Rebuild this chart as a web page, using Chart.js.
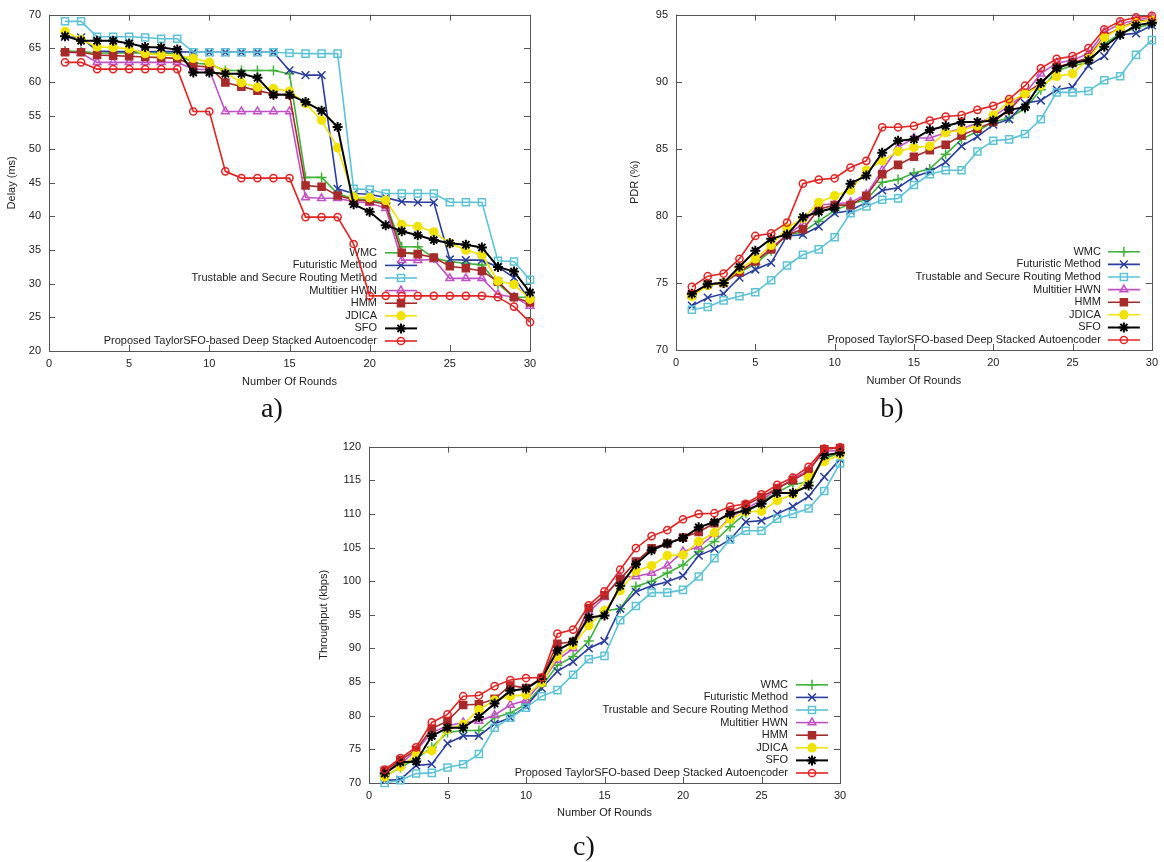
<!DOCTYPE html>
<html>
<head>
<meta charset="utf-8">
<script src="https://cdn.jsdelivr.net/npm/chart.js@4.4.0/dist/chart.umd.min.js"></script>
<style>
  body { margin: 0; background: #fff; width: 1164px; height: 862px; position: relative; overflow: hidden; }
  .panel { position: absolute; }
  .cap { position: absolute; font-family: "Liberation Serif", "DejaVu Serif", serif; font-size: 28px; color: #111; transform: translateX(-50%); line-height: 1; }
</style>
</head>
<body>
<div class="panel" style="left:0;top:0;width:560px;height:400px"><canvas id="delayChart"></canvas></div>
<div class="panel" style="left:620px;top:0;width:544px;height:400px"><canvas id="pdrChart"></canvas></div>
<div class="panel" style="left:300px;top:432px;width:560px;height:400px"><canvas id="thrChart"></canvas></div>
<div class="cap" style="left:272px;top:394px">a)</div>
<div class="cap" style="left:892px;top:394px">b)</div>
<div class="cap" style="left:584px;top:832px">c)</div>

<script>
/* ---- data ---- */
const rounds = [1, 2, 3, 4, 5, 6, 7, 8, 9, 10, 11, 12, 13, 14, 15, 16, 17, 18, 19, 20, 21, 22, 23, 24, 25, 26, 27, 28, 29, 30];
const seriesNames = ['WMC', 'Futuristic Method', 'Trustable and Secure Routing Method', 'Multitier HWN', 'HMM', 'JDICA', 'SFO', 'Proposed TaylorSFO-based Deep Stacked Autoencoder'];
const xTicks = [0, 5, 10, 15, 20, 25, 30];
const delayTicks = [20, 25, 30, 35, 40, 45, 50, 55, 60, 65, 70];
const pdrTicks = [70, 75, 80, 85, 90, 95];
const thrTicks = [70, 75, 80, 85, 90, 95, 100, 105, 110, 115, 120];

// a) Delay (ms)
const delayWmc   = [64.6, 64.5, 64.3, 64.3, 64.3, 64.3, 64.3, 64.2, 62.8, 62.6, 61.7, 61.7, 61.7, 61.7, 61.2, 45.8, 45.8, 43.4, 42.6, 42.5, 42.0, 35.5, 35.5, 33.8, 33.3, 33.0, 32.8, 30.0, 28.0, 28.0];
const delayFut   = [66.7, 66.6, 64.6, 64.5, 64.5, 64.5, 64.5, 64.5, 64.4, 64.4, 64.4, 64.4, 64.4, 64.4, 61.7, 61.0, 61.0, 44.1, 43.4, 43.3, 42.8, 42.2, 42.1, 42.1, 33.6, 33.5, 33.5, 32.5, 30.9, 27.5];
const delayTsr   = [69.0, 69.0, 66.7, 66.7, 66.7, 66.6, 66.4, 66.4, 64.4, 64.4, 64.4, 64.4, 64.4, 64.4, 64.3, 64.2, 64.2, 64.2, 44.1, 44.0, 43.4, 43.4, 43.4, 43.4, 42.1, 42.1, 42.1, 33.4, 33.3, 30.6];
const delayHwn   = [64.4, 64.3, 62.9, 62.9, 62.9, 62.9, 62.9, 62.9, 61.9, 61.8, 55.6, 55.6, 55.6, 55.6, 55.6, 42.8, 42.7, 42.7, 42.2, 42.0, 41.2, 33.5, 33.5, 33.6, 30.8, 30.8, 30.8, 28.4, 28.0, 26.7];
const delayHmm   = [64.4, 64.4, 64.0, 63.9, 63.8, 63.7, 63.6, 63.5, 62.4, 62.2, 59.9, 59.3, 58.7, 58.2, 58.1, 44.6, 44.4, 43.1, 42.5, 42.3, 41.8, 34.6, 34.4, 33.9, 32.6, 32.3, 31.9, 30.3, 28.0, 27.2];
const delayJdica = [67.5, 66.3, 65.2, 65.1, 64.9, 64.2, 64.0, 63.9, 63.5, 62.9, 61.4, 59.9, 59.2, 59.0, 58.6, 56.8, 54.3, 50.2, 42.9, 42.8, 42.4, 38.8, 38.5, 37.7, 36.0, 35.0, 34.3, 30.4, 29.9, 27.7];
const delaySfo   = [66.8, 66.1, 66.1, 66.1, 65.7, 65.2, 65.1, 64.8, 61.4, 61.4, 61.2, 61.2, 60.6, 58.1, 58.1, 57.0, 55.7, 53.3, 41.8, 40.7, 38.7, 37.8, 37.2, 36.5, 36.0, 35.8, 35.4, 32.5, 31.8, 28.7];
const delayProp  = [62.9, 62.9, 61.9, 61.9, 61.9, 61.9, 61.9, 61.9, 55.6, 55.6, 46.7, 45.7, 45.7, 45.7, 45.7, 39.9, 39.9, 39.9, 35.9, 28.2, 28.2, 28.2, 28.2, 28.2, 28.2, 28.2, 28.2, 28.0, 26.6, 24.3];

// b) PDR (%)
const pdrWmc   = [74.1, 74.9, 75.0, 75.8, 76.4, 77.4, 78.6, 78.8, 79.6, 80.4, 80.9, 81.2, 82.5, 82.7, 83.2, 83.5, 84.6, 85.7, 86.3, 87.0, 87.3, 88.0, 89.4, 90.8, 91.2, 91.4, 92.8, 93.6, 94.0, 94.3];
const pdrFut   = [73.3, 73.9, 74.2, 75.4, 76.0, 76.5, 78.5, 78.6, 79.2, 80.2, 80.4, 81.0, 81.9, 82.1, 82.9, 83.3, 84.0, 85.2, 85.9, 86.8, 87.2, 88.4, 88.6, 89.4, 89.6, 91.2, 91.9, 93.5, 93.6, 94.2];
const pdrTsr   = [73.0, 73.2, 73.7, 74.0, 74.3, 75.2, 76.3, 77.1, 77.5, 78.4, 80.2, 80.7, 81.2, 81.3, 82.3, 83.1, 83.4, 83.4, 84.8, 85.6, 85.7, 86.1, 87.2, 89.2, 89.2, 89.3, 90.1, 90.4, 92.0, 93.1];
const pdrHwn   = [74.1, 74.9, 75.0, 75.9, 76.6, 77.6, 78.6, 79.4, 80.8, 80.9, 81.0, 81.6, 83.4, 85.1, 85.8, 85.8, 86.2, 86.5, 86.9, 87.4, 88.2, 89.1, 90.6, 91.4, 91.6, 92.1, 93.7, 94.3, 94.6, 94.8];
const pdrHmm   = [74.1, 74.9, 75.0, 75.8, 76.6, 77.5, 78.6, 79.0, 80.5, 80.8, 80.8, 81.5, 83.1, 83.8, 84.4, 84.9, 85.3, 86.0, 86.5, 87.0, 87.9, 89.1, 89.9, 91.1, 91.4, 91.8, 93.4, 94.0, 94.5, 94.6];
const pdrJdica = [74.0, 74.8, 75.0, 76.0, 76.8, 77.8, 79.1, 79.8, 81.0, 81.5, 81.9, 83.4, 84.1, 84.8, 85.1, 85.2, 86.2, 86.4, 86.7, 87.5, 88.5, 89.1, 89.7, 90.4, 90.6, 91.7, 93.3, 94.0, 94.4, 94.6];
const pdrSfo   = [74.2, 74.9, 75.0, 76.2, 77.4, 78.3, 78.6, 79.9, 80.3, 80.6, 82.4, 83.0, 84.7, 85.6, 85.7, 86.4, 86.7, 87.0, 87.0, 87.1, 87.9, 88.1, 89.9, 91.0, 91.4, 91.6, 92.6, 93.5, 94.2, 94.4];
const pdrProp  = [74.7, 75.5, 75.7, 76.8, 78.5, 78.7, 79.5, 82.4, 82.7, 82.8, 83.6, 84.1, 86.6, 86.6, 86.7, 87.1, 87.4, 87.5, 87.9, 88.2, 88.7, 89.7, 91.0, 91.7, 91.9, 92.5, 93.9, 94.5, 94.8, 94.9];

// c) Throughput (kbps)
const thrWmc   = [71.0, 72.3, 73.6, 75.3, 77.5, 77.8, 77.8, 79.7, 80.4, 81.7, 84.4, 87.5, 88.8, 91.1, 95.6, 95.9, 99.2, 100.0, 101.2, 102.4, 104.4, 105.9, 108.1, 110.1, 111.8, 113.2, 114.4, 114.7, 118.2, 119.1];
const thrFut   = [70.4, 70.5, 72.6, 72.8, 75.9, 77.0, 77.0, 78.8, 79.7, 81.4, 84.1, 86.6, 88.0, 90.0, 91.1, 95.9, 98.4, 99.3, 99.9, 100.8, 103.8, 104.8, 106.2, 108.8, 109.0, 110.0, 111.1, 112.6, 115.5, 118.1];
const thrTsr   = [70.0, 70.4, 71.4, 71.5, 72.3, 72.8, 74.3, 78.2, 79.7, 81.2, 82.9, 83.8, 86.1, 88.4, 88.9, 94.2, 96.3, 98.3, 98.3, 98.7, 100.7, 103.4, 106.2, 107.5, 107.5, 109.3, 110.0, 110.8, 113.4, 117.5];
const thrHwn   = [71.5, 72.8, 74.8, 77.5, 78.5, 79.0, 79.2, 80.1, 81.6, 82.3, 85.0, 88.3, 90.0, 95.4, 97.6, 100.6, 100.7, 101.2, 102.3, 104.4, 105.1, 107.0, 109.5, 110.8, 112.0, 113.7, 115.2, 116.5, 119.3, 119.4];
const thrHmm   = [71.8, 73.4, 74.9, 78.1, 79.2, 81.6, 81.7, 82.5, 84.5, 84.1, 85.6, 90.7, 91.0, 96.0, 97.9, 100.3, 102.9, 104.9, 105.6, 106.5, 107.3, 108.6, 110.3, 111.3, 112.5, 113.8, 115.0, 116.3, 119.6, 119.8];
const thrJdica = [70.9, 72.4, 74.2, 74.8, 78.0, 78.7, 80.9, 82.3, 82.9, 83.1, 84.9, 88.8, 90.5, 93.4, 95.6, 98.6, 101.5, 102.3, 103.8, 103.9, 105.9, 107.2, 109.2, 110.3, 110.4, 112.0, 112.9, 115.4, 117.8, 118.8];
const thrSfo   = [71.4, 73.1, 73.2, 77.0, 78.2, 78.2, 79.8, 81.8, 83.7, 84.0, 85.5, 89.7, 91.0, 94.6, 94.9, 99.3, 102.5, 104.6, 105.6, 106.4, 108.0, 108.8, 110.0, 110.5, 111.5, 113.1, 113.1, 114.2, 118.7, 119.1];
const thrProp  = [72.0, 73.7, 75.3, 79.0, 80.2, 82.9, 83.0, 84.4, 85.3, 85.6, 85.7, 92.2, 92.8, 96.4, 98.5, 101.7, 104.9, 106.7, 107.6, 109.2, 110.0, 110.1, 111.1, 111.5, 112.9, 114.3, 115.4, 117.0, 119.7, 119.9];

/* ---- look of each series (gnuplot style) ---- */
const STYLES = [
    { color: '#3fb23a', fill: '#3fb23a',       point: 'cross',    r: 5 },
    { color: '#2b3e9e', fill: '#2b3e9e',       point: 'crossRot', r: 5.5 },
    { color: '#5cc3d6', fill: 'rgba(0,0,0,0)', point: 'rect',     r: 5 },
    { color: '#c052c4', fill: 'rgba(0,0,0,0)', point: 'triangle', r: 4.5 },
    { color: '#a82a2a', fill: '#a82a2a',       point: 'rect',     r: 5 },
    { color: '#f2e200', fill: '#f2e200',       point: 'circle',   r: 4 },
    { color: '#000000', fill: '#000000',       point: 'star',     r: 5 },
    { color: '#e32222', fill: 'rgba(0,0,0,0)', point: 'circle',   r: 3.6 }
];
const FONT = { family: '"Liberation Sans", Arial, sans-serif', size: 11 };
const INK = '#222';

// box around the plot + inward ticks on all four sides
const framePlugin = {
    id: 'frame',
    beforeDatasetsDraw(chart) {
        const { ctx, chartArea: a, scales: { x, y } } = chart;
        ctx.save();
        ctx.strokeStyle = '#555';
        ctx.lineWidth = 1;
        ctx.strokeRect(Math.round(a.left) + 0.5, Math.round(a.top) + 0.5, Math.round(a.width), Math.round(a.height));
        ctx.beginPath();
        x.ticks.forEach(t => {
            const px = Math.round(x.getPixelForValue(t.value)) + 0.5;
            ctx.moveTo(px, a.bottom); ctx.lineTo(px, a.bottom - 6);
            ctx.moveTo(px, a.top); ctx.lineTo(px, a.top + 6);
        });
        y.ticks.forEach(t => {
            const py = Math.round(y.getPixelForValue(t.value)) + 0.5;
            ctx.moveTo(a.left, py); ctx.lineTo(a.left + 6, py);
            ctx.moveTo(a.right, py); ctx.lineTo(a.right - 6, py);
        });
        ctx.stroke();
        ctx.restore();
    }
};

// key inside the plot, bottom-right, text right-aligned then line sample
const keyPlugin = {
    id: 'key',
    beforeDatasetsDraw(chart, args, opts) {
        const { ctx, chartArea: a } = chart;
        const sets = chart.data.datasets;
        ctx.save();
        ctx.font = `${FONT.size}px ${FONT.family}`;
        ctx.textAlign = 'right';
        ctx.textBaseline = 'middle';
        sets.forEach((ds, i) => {
            const yy = a.bottom - opts.bottom - (sets.length - 1 - i) * opts.gap;
            const x1 = a.right - opts.lineFrom, x2 = a.right - opts.lineTo;
            ctx.fillStyle = INK;
            ctx.fillText(ds.label, a.right - opts.text, yy);
            ctx.strokeStyle = ds.borderColor;
            ctx.lineWidth = ds.borderWidth;
            ctx.beginPath(); ctx.moveTo(x1, yy); ctx.lineTo(x2, yy); ctx.stroke();
            ctx.fillStyle = ds.pointBackgroundColor;
            ctx.lineWidth = ds.pointBorderWidth;
            Chart.helpers.drawPoint(ctx, { pointStyle: ds.pointStyle, radius: ds.pointRadius, rotation: 0, borderWidth: ds.pointBorderWidth }, (x1 + x2) / 2, yy);
        });
        ctx.restore();
    }
};

function makeChart(id, lists, yTitle, yTicks, geo) {
    const datasets = lists.map((vals, i) => ({
        label: seriesNames[i],
        data: rounds.map((r, k) => ({ x: r, y: vals[k] })),
        borderColor: STYLES[i].color,
        backgroundColor: STYLES[i].fill,
        pointBackgroundColor: STYLES[i].fill,
        pointBorderColor: STYLES[i].color,
        pointStyle: STYLES[i].point,
        pointRadius: STYLES[i].r,
        pointBorderWidth: i === 6 ? 2 : 1.5,
        borderWidth: i === 6 ? 2 : 1.6,
        tension: 0,
        clip: false,
        order: lists.length - i
    }));
    return new Chart(document.getElementById(id), {
        type: 'line',
        data: { datasets },
        plugins: [framePlugin, keyPlugin],
        options: {
            responsive: true,
            maintainAspectRatio: false,
            animation: false,
            layout: { padding: geo.pad },
            plugins: {
                legend: { display: false },
                tooltip: { enabled: false },
                key: geo.key
            },
            scales: {
                x: {
                    type: 'linear', min: xTicks[0], max: xTicks[xTicks.length - 1],
                    afterBuildTicks: s => { s.ticks = xTicks.map(v => ({ value: v })); },
                    ticks: { font: FONT, color: INK, padding: 6, maxRotation: 0 },
                    grid: { display: false, drawTicks: false },
                    border: { display: false },
                    title: { display: true, text: 'Number Of Rounds', font: FONT, color: INK, padding: { top: 6, bottom: 0 } },
                    afterFit: s => { s.height = geo.xh; }
                },
                y: {
                    min: yTicks[0], max: yTicks[yTicks.length - 1],
                    afterBuildTicks: s => { s.ticks = yTicks.map(v => ({ value: v })); },
                    ticks: { font: FONT, color: INK, padding: 8 },
                    grid: { display: false, drawTicks: false },
                    border: { display: false },
                    title: { display: true, text: yTitle, font: FONT, color: INK, padding: { top: 0, bottom: 4 } },
                    afterFit: s => { s.width = geo.yw; }
                }
            }
        }
    });
}

makeChart('delayChart',
    [delayWmc, delayFut, delayTsr, delayHwn, delayHmm, delayJdica, delaySfo, delayProp],
    'Delay (ms)', delayTicks,
    { pad: { top: 10, right: 30, left: 5, bottom: 11 }, xh: 38, yw: 44,
      key: { text: 153, lineFrom: 145, lineTo: 113, bottom: 10, gap: 12.6 } });

makeChart('pdrChart',
    [pdrWmc, pdrFut, pdrTsr, pdrHwn, pdrHmm, pdrJdica, pdrSfo, pdrProp],
    'PDR (%)', pdrTicks,
    { pad: { top: 10, right: 11, left: 8, bottom: 12 }, xh: 38, yw: 48,
      key: { text: 51, lineFrom: 44, lineTo: 12, bottom: 10, gap: 12.6 } });

makeChart('thrChart',
    [thrWmc, thrFut, thrTsr, thrHwn, thrHmm, thrJdica, thrSfo, thrProp],
    'Throughput (kbps)', thrTicks,
    { pad: { top: 10, right: 20, left: 17, bottom: 12 }, xh: 37, yw: 52,
      key: { text: 52, lineFrom: 44, lineTo: 12, bottom: 10, gap: 12.6 } });
</script>
</body>
</html>
